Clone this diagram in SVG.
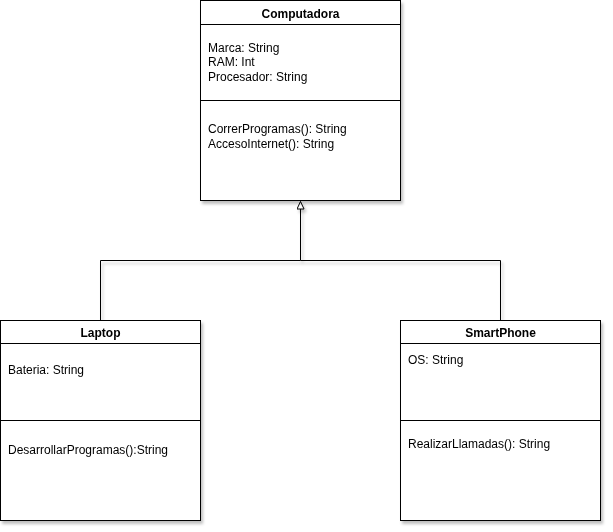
<svg xmlns="http://www.w3.org/2000/svg" width="613" height="532" viewBox="0 0 613 532">
<style>
.box{fill:#fff;stroke:#000;stroke-width:1}
.sep{stroke:#000;stroke-width:1;fill:none}
.t{font-family:"Liberation Sans",Arial,sans-serif;font-size:12px;fill:#000}
.h{font-family:"Liberation Sans",Arial,sans-serif;font-size:12px;font-weight:bold;fill:#000;text-anchor:middle}
.edge{stroke:#000;stroke-width:1;fill:none}
</style>
<defs>
<filter id="sh" x="-10%" y="-10%" width="130%" height="130%">
<feDropShadow dx="2" dy="3" stdDeviation="1.5" flood-color="#000" flood-opacity="0.25"/>
</filter>
<marker id="tri" markerWidth="10" markerHeight="10" refX="8" refY="4" orient="auto" markerUnits="userSpaceOnUse">
<path d="M0.5,0.5 L8,4 L0.5,7.5 Z" fill="#fff" stroke="#000" stroke-width="1"/>
</marker>
</defs>
<g id="connectors" filter="url(#sh)">
<path class="edge" d="M100.5,320 V260.5 H300.5 V201.5" marker-end="url(#tri)"/>
<path class="edge" d="M500.5,320 V260.5 H300.5"/>
</g>
<g id="Computadora" filter="url(#sh)">
<rect class="box" x="200.5" y="0.5" width="200" height="200"/>
<line class="sep" x1="200.5" y1="24.5" x2="400.5" y2="24.5"/>
<line class="sep" x1="200.5" y1="100.5" x2="400.5" y2="100.5"/>
<text class="h" x="300.5" y="18">Computadora</text>
<text class="t" x="208" y="52">Marca: String</text>
<text class="t" x="208" y="66">RAM: Int</text>
<text class="t" x="208" y="81">Procesador: String</text>
<text class="t" x="208" y="133">CorrerProgramas(): String</text>
<text class="t" x="208" y="148">AccesoInternet(): String</text>
</g>
<g id="Laptop" filter="url(#sh)">
<rect class="box" x="0.5" y="320.5" width="200" height="200"/>
<line class="sep" x1="0.5" y1="343.5" x2="200.5" y2="343.5"/>
<line class="sep" x1="0.5" y1="420.5" x2="200.5" y2="420.5"/>
<text class="h" x="100.5" y="337">Laptop</text>
<text class="t" x="8" y="374">Bateria: String</text>
<text class="t" x="8" y="454">DesarrollarProgramas():String</text>
</g>
<g id="SmartPhone" filter="url(#sh)">
<rect class="box" x="400.5" y="320.5" width="200" height="200"/>
<line class="sep" x1="400.5" y1="343.5" x2="600.5" y2="343.5"/>
<line class="sep" x1="400.5" y1="420.5" x2="600.5" y2="420.5"/>
<text class="h" x="500.5" y="337">SmartPhone</text>
<text class="t" x="408" y="364">OS: String</text>
<text class="t" x="408" y="448">RealizarLlamadas(): String</text>
</g>
</svg>
